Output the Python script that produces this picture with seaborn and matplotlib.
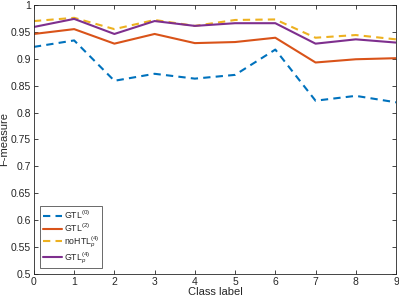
import matplotlib
matplotlib.use("Agg")
import matplotlib.pyplot as plt
import seaborn as sns
import pandas as pd

classes = [0, 1, 2, 3, 4, 5, 6, 7, 8, 9]
gtl0 = [0.922, 0.934, 0.859, 0.872, 0.863, 0.870, 0.917, 0.822, 0.831, 0.819]
gtl2 = [0.946, 0.955, 0.928, 0.946, 0.929, 0.931, 0.939, 0.893, 0.899, 0.901]
nohtl = [0.970, 0.976, 0.955, 0.972, 0.961, 0.972, 0.973, 0.939, 0.944, 0.936]
gtlp = [0.959, 0.974, 0.946, 0.970, 0.961, 0.966, 0.966, 0.928, 0.936, 0.930]
labels = [r'GTL$^{(0)}$', r'GTL$^{(2)}$', r'noHTL$_p^{(4)}$', r'GTL$_p^{(4)}$']
yticks = [0.5, 0.55, 0.6, 0.65, 0.7, 0.75, 0.8, 0.85, 0.9, 0.95, 1.0]
yticklabels = ['0.5', '0.55', '0.6', '0.65', '0.7', '0.75', '0.8', '0.85', '0.9', '0.95', '1']

series = [gtl0, gtl2, nohtl, gtlp]
df = pd.concat([pd.DataFrame({'x': classes, 'y': s, 'series': lab})
                for s, lab in zip(series, labels)], ignore_index=True)

sns.set_style("ticks", {"xtick.direction": "in", "ytick.direction": "in"})
plt.rcParams['font.family'] = ['Liberation Sans', 'DejaVu Sans']
plt.rcParams['mathtext.fontset'] = 'custom'
plt.rcParams['mathtext.rm'] = 'Liberation Sans'
plt.rcParams['mathtext.it'] = 'Liberation Sans:italic'

fig = plt.figure(figsize=(3.99, 2.99), dpi=100)
ax = fig.add_axes([0.085, 0.0836, 0.9075, 0.9])

palette = {labels[0]: '#0072BD', labels[1]: '#D95319', labels[2]: '#EDB120', labels[3]: '#7E2F8E'}
dashes = {labels[0]: (3.5, 2.5), labels[1]: '', labels[2]: (3.5, 2.5), labels[3]: ''}
sns.lineplot(data=df, x='x', y='y', hue='series', style='series', palette=palette,
             dashes=dashes, linewidth=1.5, ax=ax, legend=True)

ax.set_xlim(0, 9)
ax.set_ylim(0.5, 1.0)
ax.set_xticks(classes)
ax.set_yticks(yticks)
ax.set_yticklabels(yticklabels)
ax.tick_params(axis='both', labelsize=7.5, colors='#262626', length=3, width=0.6,
               top=True, right=True, pad=2)
for sp in ax.spines.values():
    sp.set_visible(True)
    sp.set_color('#262626')
    sp.set_linewidth(0.6)
ax.set_xlabel('Class label', fontsize=8, color='#262626', labelpad=0)
ax.set_ylabel('F-measure', fontsize=8, color='#262626')
ax.yaxis.set_label_coords(-0.068, 0.5)

leg = ax.legend(loc='lower left', bbox_to_anchor=(0.012, 0.015), fontsize=6.3,
                frameon=True, fancybox=False, edgecolor='#262626',
                handlelength=2.2, borderpad=0.3, labelspacing=0.05, handletextpad=0.2,
                borderaxespad=0.2)
leg.get_frame().set_linewidth(0.6)

fig.savefig('out.png', dpi=100)
